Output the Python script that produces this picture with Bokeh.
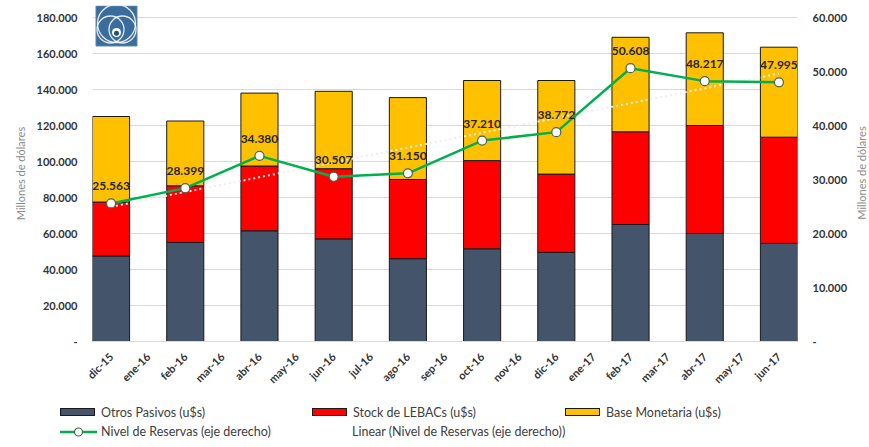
import numpy as np
from bokeh.plotting import figure
from bokeh.layouts import column, row
from bokeh.models import (Range1d, LinearAxis, FixedTicker, ColumnDataSource,
                          LabelSet, Div)
from bokeh.embed import file_html
from bokeh.resources import INLINE
from bokeh.core.properties import value

# ---------------- data ----------------
months = ["dic-15", "ene-16", "feb-16", "mar-16", "abr-16", "may-16", "jun-16",
          "jul-16", "ago-16", "sep-16", "oct-16", "nov-16", "dic-16", "ene-17",
          "feb-17", "mar-17", "abr-17", "may-17", "jun-17"]
bar_months = ["dic-15", "feb-16", "abr-16", "jun-16", "ago-16", "oct-16",
              "dic-16", "feb-17", "abr-17", "jun-17"]
otros_pasivos = [47500, 55000, 61500, 57000, 46000, 51500, 49500, 65000, 60000, 54500]
stock_lebacs = [30000, 31500, 36000, 39000, 44000, 49000, 43500, 51500, 60000, 59000]
base_monetaria = [47500, 36000, 40500, 43000, 45500, 44500, 52000, 52500, 51500, 50000]
reservas = [25563, 28399, 34380, 30507, 31150, 37210, 38772, 50608, 48217, 47995]
left_ticks = [0, 20000, 40000, 60000, 80000, 100000, 120000, 140000, 160000, 180000]
right_ticks = [0, 10000, 20000, 30000, 40000, 50000, 60000]
series_names = ["Otros Pasivos (u$s)", "Stock de LEBACs (u$s)", "Base Monetaria (u$s)"]
line_name = "Nivel de Reservas (eje derecho)"
trend_name = "Linear (Nivel de Reservas (eje derecho))"
axis_title = "Millones de dólares"

FONT = "Lato"
BAR_COLORS = ["#44546A", "#FF0000", "#FFC000"]
GREEN = "#00B050"
MARKER_LINE = "#4a6355"


def fmt(v):
    return "-" if v == 0 else f"{v:,.0f}".replace(",", ".")


xs = [months.index(m) for m in bar_months]
src = ColumnDataSource(dict(x=xs, otros=otros_pasivos, lebacs=stock_lebacs,
                            base=base_monetaria, res=reservas,
                            lbl=[fmt(v) for v in reservas]))

W_TOTAL = 869
W_RT = 14                     # width of the right-hand axis title strip
W = W_TOTAL - W_RT
H_MAIN, H_LEG = 402, 38
BL, BR, BT, BB = 92, W - 797, 5, 61
Y_END = 186667

p = figure(width=W, height=H_MAIN, x_range=Range1d(-0.5, len(months) - 0.5),
           y_range=Range1d(0, Y_END), output_backend="svg", toolbar_location=None,
           min_border_left=BL, min_border_right=BR, min_border_top=BT,
           min_border_bottom=BB)
p.extra_y_ranges = {"res": Range1d(0, Y_END / 3)}
p.outline_line_color = None
p.xgrid.visible = False
p.ygrid.ticker = FixedTicker(ticks=left_ticks)
p.ygrid.grid_line_color = "#d9d9d9"
p.ygrid.grid_line_width = 1

# bars
p.vbar_stack(["otros", "lebacs", "base"], x="x", width=1.0, source=src,
             fill_color=BAR_COLORS, line_color="#1a1a1a", line_width=1)

# trend line (linear fit of the reserves)
coef = np.polyfit(xs, reservas, 1)
tx = [xs[0], xs[-1]]
ty = list(np.polyval(coef, tx))
p.line(tx, ty, y_range_name="res", line_color="#eeeeee", line_width=2,
       line_dash="2 3")

# reserves line
p.line("x", "res", source=src, y_range_name="res", line_color=GREEN, line_width=2.5)
p.scatter("x", "res", source=src, y_range_name="res", size=9,
          fill_color="white", line_color=MARKER_LINE, line_width=1.2)

labels = LabelSet(x="x", y="res", text="lbl", source=src, y_range_name="res",
                  y_offset=17, text_align="center", text_baseline="middle",
                  text_font_size="12px", text_font_style="bold",
                  text_color="#262626", text_font=value(FONT))
p.add_layout(labels)

# logo (decoration, top-left)
fw = W - BL - BR
fh = H_MAIN - BT - BB


def px2data(ix, iy):
    dx = (ix - BL) / fw * len(months) - 0.5
    dy = (BT + fh - iy) / fh * Y_END
    return dx, dy


lx, ly = px2data(116, 25.5)
p.rect([lx], [ly], width=41, height=40, width_units="screen", height_units="screen",
       fill_color="#3a6d9b", line_color="#5b86ad", line_width=1)
for cx, cy, s in [(116, 23, 38), (110, 29, 27), (122, 29, 27)]:
    ax_, ay_ = px2data(cx, cy)
    p.scatter([ax_], [ay_], size=s, fill_color=None, line_color="white",
              line_width=1.3, line_alpha=0.85)
dx_, dy_ = px2data(116, 32)
p.scatter([dx_], [dy_], size=9, fill_color="white", line_color=None)
p.scatter([dx_], [dy_ - 400], size=5, fill_color="#1f4f7a", line_color=None)

# axes
p.xaxis.ticker = FixedTicker(ticks=list(range(len(months))))
p.xaxis.major_label_overrides = {i: m for i, m in enumerate(months)}
p.xaxis.major_label_orientation = np.pi / 4
p.xaxis.major_label_text_font = FONT
p.xaxis.major_label_text_font_style = "bold"
p.xaxis.major_label_text_font_size = "11px"
p.xaxis.major_label_text_color = "#333333"
p.xaxis.major_tick_out = 0
p.xaxis.minor_tick_out = 0
p.xaxis.major_label_standoff = 13
p.xaxis.axis_line_color = "#d9d9d9"
p.xaxis.major_tick_line_color = None
p.xaxis.minor_tick_line_color = None

ly_ax = p.yaxis[0]
ly_ax.ticker = FixedTicker(ticks=left_ticks)
ly_ax.major_label_overrides = {v: fmt(v) for v in left_ticks}
ly_ax.axis_label = axis_title

ry_ax = LinearAxis(y_range_name="res", ticker=FixedTicker(ticks=right_ticks))
ry_ax.major_label_overrides = {v: fmt(v) for v in right_ticks}
p.add_layout(ry_ax, "right")

for ax in (ly_ax, ry_ax):
    ax.axis_line_color = None
    ax.major_tick_line_color = None
    ax.minor_tick_line_color = None
    ax.major_tick_out = 0
    ax.minor_tick_out = 0
    ax.major_label_text_font = FONT
    ax.major_label_text_font_style = "bold"
    ax.major_label_text_font_size = "11px"
    ax.major_label_text_color = "#333333"
ly_ax.axis_label_text_font = FONT
ly_ax.axis_label_text_font_style = "normal"
ly_ax.axis_label_text_font_size = "11px"
ly_ax.axis_label_text_color = "#8c8c8c"
ly_ax.major_label_standoff = 15
ly_ax.axis_label_standoff = 7
ry_ax.major_label_standoff = 15

# right-hand axis title (reads bottom to top, centred on the plot frame)
frame_mid = BT + fh / 2
rt_html = (f'<div style="position:relative;width:{W_RT}px;height:{H_MAIN}px;">'
           f'<span style="position:absolute;left:{W_RT / 2}px;top:{frame_mid}px;'
           f'transform:translate(-50%,-50%) rotate(-90deg);white-space:nowrap;'
           f'font-family:Lato,sans-serif;font-size:11px;color:#8c8c8c;">'
           f'{axis_title}</span></div>')
right_title = Div(text=rt_html, width=W_RT, height=H_MAIN, margin=0)

# ---------------- legend (HTML below the plot) ----------------
TXT = ("position:absolute;white-space:nowrap;font-family:Lato,sans-serif;"
       "font-size:12.5px;line-height:16px;color:#404040;")


def bar_item(left, cy, color, label):
    return (f'<span style="position:absolute;left:{left}px;top:{cy - 5}px;width:35px;'
            f'height:8px;background:{color};border:1px solid #1a1a1a;"></span>'
            f'<span style="{TXT}left:{left + 41}px;top:{cy - 8}px;">{label}</span>')


row1, row2 = 11, 30
html = f'<div style="position:relative;width:{W_TOTAL}px;height:{H_LEG}px;">'
for left, c, n in zip([60, 312, 565], BAR_COLORS, series_names):
    html += bar_item(left, row1, c, n)
html += (f'<svg style="position:absolute;left:60px;top:{row2 - 6}px;" width="37" height="12">'
         f'<line x1="0" y1="6" x2="37" y2="6" stroke="{GREEN}" stroke-width="2.5"/>'
         f'<circle cx="18.5" cy="6" r="4" fill="white" stroke="{MARKER_LINE}" '
         f'stroke-width="1.2"/></svg>'
         f'<span style="{TXT}left:101px;top:{row2 - 8}px;">{line_name}</span>'
         f'<span style="{TXT}left:352px;top:{row2 - 8}px;">{trend_name}</span>')
html += '</div>'
legend_div = Div(text=html, width=W_TOTAL, height=H_LEG, margin=0)

layout = column(row(p, right_title, spacing=0), legend_div, spacing=0)
open("out.html", "w").write(file_html(layout, INLINE))
